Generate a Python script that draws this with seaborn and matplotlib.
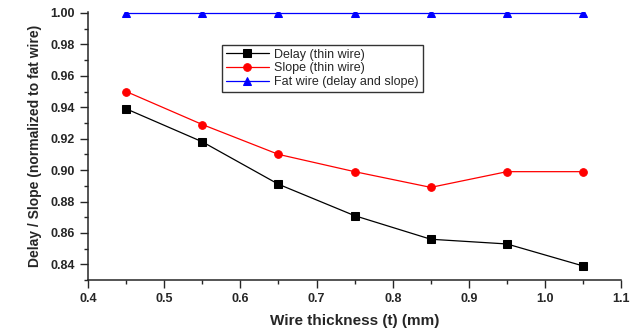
import numpy as np
import pandas as pd
import seaborn as sns
import matplotlib
matplotlib.use("Agg")
import matplotlib.pyplot as plt
from matplotlib.ticker import MultipleLocator

# datos
espesor = [0.45, 0.55, 0.65, 0.75, 0.85, 0.95, 1.05]
delay_thin = [0.939, 0.918, 0.891, 0.871, 0.856, 0.853, 0.839]
slope_thin = [0.950, 0.929, 0.910, 0.899, 0.889, 0.899, 0.899]
fat_wire = [1.0, 1.0, 1.0, 1.0, 1.0, 1.0, 1.0]

series = [
    ("Delay (thin wire)", delay_thin, "black", "s"),
    ("Slope (thin wire)", slope_thin, "#ff0000", "o"),
    ("Fat wire (delay and slope)", fat_wire, "#0000ff", "^"),
]

sns.set_style("ticks")
plt.rcParams['font.family'] = ['Liberation Sans', 'DejaVu Sans']

fig = plt.figure(figsize=(6.31, 3.28), dpi=100)
ax = fig.add_axes([0.1395, 0.146, 0.845, 0.817])

for nombre, valores, color, marca in series:
    df = pd.DataFrame({"t": espesor, "v": valores})
    sns.lineplot(data=df, x="t", y="v", color=color, marker=marca,
                 markersize=5.5, markeredgecolor=color, linewidth=0.9,
                 label=nombre, ax=ax)

ax.set_xlim(0.4, 1.1)
ax.set_ylim(0.83, 1.0005)
ax.xaxis.set_minor_locator(MultipleLocator(0.05))
ax.yaxis.set_minor_locator(MultipleLocator(0.01))
ax.set_xticks(np.arange(0.4, 1.11, 0.1))
ax.set_xticklabels(["0.4", "0.5", "0.6", "0.7", "0.8", "0.9", "1.0", "1.1"])
ax.set_yticks(np.arange(0.84, 1.001, 0.02))
ax.set_yticklabels(["0.84", "0.86", "0.88", "0.90", "0.92", "0.94", "0.96", "0.98", "1.00"])

ax.tick_params(which='major', direction='out', length=6, width=1, labelsize=9)
ax.tick_params(which='minor', direction='out', length=3, width=1)
for lbl in ax.get_xticklabels() + ax.get_yticklabels():
    lbl.set_fontweight('bold')

sns.despine(ax=ax)
ax.spines['left'].set_linewidth(1.1)
ax.spines['bottom'].set_linewidth(1.1)

ax.set_xlabel('Wire thickness (t) (mm)', fontsize=11, fontweight='bold', labelpad=6)
ax.set_ylabel('Delay / Slope (normalized to fat wire)', fontsize=10, fontweight='bold', labelpad=6)

leg = ax.legend(loc='upper left', bbox_to_anchor=(0.251, 0.878), fontsize=9,
                frameon=True, fancybox=False, edgecolor='black',
                handlelength=3.5, borderpad=0.3, labelspacing=0.15,
                handletextpad=0.4, borderaxespad=0)
leg.get_frame().set_linewidth(1.0)

fig.savefig("out.png", dpi=100)
